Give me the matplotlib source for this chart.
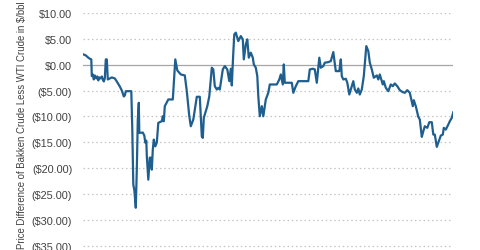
import matplotlib
matplotlib.use("Agg")
import matplotlib.pyplot as plt

# trading day index vs Bakken - WTI spread ($/bbl)
days = [0, 5, 10, 13, 16, 17, 19, 21, 23, 26, 28, 30, 32, 35, 37, 39, 41, 43, 45, 47,
        49, 53, 57, 63, 67, 73, 77, 81, 83, 85, 96, 98, 100, 102, 105, 107, 109, 111, 112, 119,
        122, 124, 126, 127, 130, 132, 133, 135, 137, 139, 141, 144, 147, 150, 157, 159, 161, 163, 170, 179,
        184, 188, 195, 203, 207, 212, 215, 220, 223, 227, 233, 237, 239, 241, 248, 252, 257, 260, 263, 267,
        270, 273, 279, 283, 288, 292, 295, 297, 300, 302, 305, 310, 315, 319, 321, 325, 328, 331, 335, 339,
        341, 345, 348, 350, 353, 357, 360, 365, 370, 373, 387, 392, 395, 399, 401, 403, 417, 420, 425, 430,
        450, 453, 459, 463, 467, 472, 475, 480, 483, 490, 495, 500, 505, 512, 515, 517, 520, 525, 528, 532,
        537, 540, 543, 547, 550, 553, 557, 561, 566, 570, 573, 577, 581, 587, 590, 593, 599, 601, 605, 610,
        615, 619, 623, 628, 633, 639, 643, 648, 653, 659, 661, 665, 670, 673, 677, 680, 683, 688, 692, 697,
        700, 703, 707, 712, 715, 719, 721, 725, 730, 733, 737, 740]
spread = [2.00, 1.80, 1.36, 1.16, 1.03, -2.21, -1.88, -2.85, -2.07, -2.65, -2.27, -3.04, -2.46, -2.65, -2.27, -2.85, -3.24, -2.65, 1.03, 1.03,
          -2.85, -2.65, -2.46, -2.65, -3.24, -4.21, -4.98, -6.14, -5.95, -5.12, -5.12, -12.54, -23.20, -24.17, -27.66, -20.29, -10.60, -7.36, -13.18, -13.12,
          -13.70, -15.06, -14.67, -17.58, -22.23, -19.32, -17.97, -17.97, -20.29, -16.42, -14.48, -15.78, -15.06, -11.24, -10.93, -9.96, -10.93, -8.02, -6.72, -6.72,
          1.03, -1.10, -1.88, -2.07, -5.12, -9.96, -11.90, -10.60, -8.66, -6.20, -6.20, -13.84, -14.15, -10.27, -8.02, -6.09, -0.58, -0.91, -4.15, -4.79,
          -4.46, -4.79, -0.91, -0.27, -0.91, -3.18, -0.78, -4.01, 2.33, 5.87, 6.20, 4.57, 5.54, 4.90, 1.03, 3.93, 4.90, 1.36, 2.33, 1.36,
          0.06, -0.58, -2.21, -6.09, -9.96, -8.02, -9.96, -6.72, -5.43, -3.82, -3.82, -2.85, -1.88, -3.82, 0.06, -3.49, -3.49, -5.43, -4.15, -3.18,
          -3.18, -0.91, -0.78, -0.91, -3.49, 1.36, -0.58, -0.27, 0.39, 0.50, 0.70, 2.44, -1.24, -1.24, 1.03, -2.21, -2.85, -2.71, -3.49, -5.76,
          -4.15, -3.18, -4.79, -5.43, -4.59, -5.76, -4.79, -2.21, 3.60, 2.64, 0.39, -0.91, -2.52, -2.07, -2.85, -1.88, -3.82, -3.18, -4.46, -5.12,
          -3.82, -4.15, -3.62, -4.15, -4.92, -5.31, -5.43, -4.92, -5.43, -8.02, -6.86, -8.02, -10.08, -10.60, -13.95, -12.87, -11.90, -12.21, -11.12, -11.12,
          -13.51, -13.51, -15.89, -14.48, -13.70, -13.51, -12.21, -12.54, -11.57, -10.93, -10.27, -9.19]

y_ticks = [10, 5, 0, -5, -10, -15, -20, -25, -30, -35]
y_labels = ["$10.00", "$5.00", "$0.00", "($5.00)", "($10.00)", "($15.00)",
            "($20.00)", "($25.00)", "($30.00)", "($35.00)"]

plt.rcParams['font.family'] = ['Liberation Sans', 'DejaVu Sans']

fig = plt.figure(figsize=(4.8, 2.51), dpi=100)
ax = fig.add_axes([83.3 / 480, 1 - 249.3 / 251, 370 / 480, 235.3 / 251])

for t in y_ticks:
    if t == 0:
        ax.axhline(t, color="#a6a6a6", lw=0.9, zorder=1)
    else:
        ax.axhline(t, color="#c4c4c4", lw=0.9, ls=(0, (1.2, 2.2)), zorder=1)

ax.plot(days, spread, color="#1f5f8f", lw=1.6, zorder=3)

ax.set_xlim(0, 740)
ax.set_ylim(-35.5, 10)
ax.set_yticks(y_ticks)
ax.set_yticklabels(y_labels, fontsize=7.8, color="#404040")
ax.set_xticks([])
ax.tick_params(axis="y", length=0, pad=8)
for s in ax.spines.values():
    s.set_visible(False)

fig.text(22 / 480, 1 - 125 / 251, "Price Difference of Bakken Crude Less WTI Crude in $/bbl",
         rotation=90, ha="center", va="center", fontsize=6.9, color="#404040")

fig.savefig("out.png", dpi=100)
